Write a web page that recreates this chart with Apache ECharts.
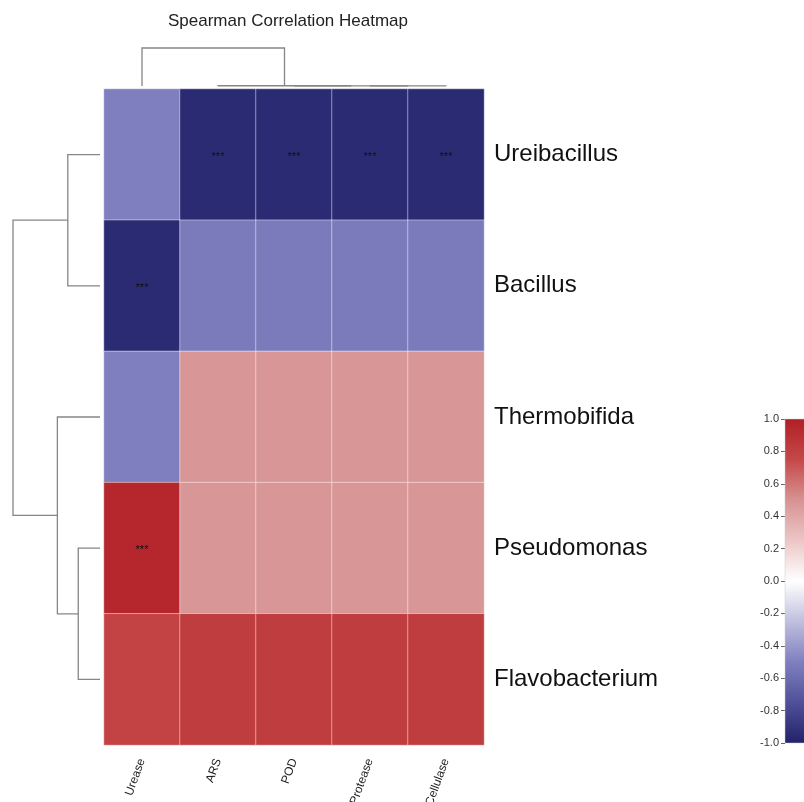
<!DOCTYPE html>
<html>
<head>
<meta charset="utf-8">
<script src="https://cdn.jsdelivr.net/npm/echarts@6/dist/echarts.min.js"></script>
<style>
  html, body { margin: 0; padding: 0; background: #fff; }
  #chart { width: 804px; height: 802px; }
</style>
</head>
<body>
<div id="chart"></div>
<script>
// rows top->bottom, columns left->right
const rows = ['Ureibacillus', 'Bacillus', 'Thermobifida', 'Pseudomonas', 'Flavobacterium'];
const cols = ['Urease', 'ARS', 'POD', 'Protease', 'Cellulase'];

// spearman rho per row (same order as cols)
const rhoUreibacillus = [-0.5, -0.95, -0.95, -0.95, -0.95];
const rhoBacillus = [-0.95, -0.52, -0.52, -0.52, -0.52];
const rhoThermobifida = [-0.5, 0.48, 0.48, 0.48, 0.48];
const rhoPseudomonas = [0.95, 0.48, 0.48, 0.48, 0.48];
const rhoFlavobacterium = [0.78, 0.82, 0.82, 0.82, 0.82];
const rho = [rhoUreibacillus, rhoBacillus, rhoThermobifida, rhoPseudomonas, rhoFlavobacterium];

// significance marks
const stars = [
  ['', '***', '***', '***', '***'],
  ['***', '', '', '', ''],
  ['', '', '', '', ''],
  ['***', '', '', '', ''],
  ['', '', '', '', '']
];

// linkage: [childA, childB, height], new clusters numbered from n
const rowLinkage = [[3, 4, 0.25], [0, 1, 0.37], [2, 5, 0.49], [6, 7, 1.0]];
const colLinkage = [[3, 4, 0.002], [2, 5, 0.004], [1, 6, 0.006], [0, 7, 1.0]];

// colour scale -1 .. 1
const cmap = ['#22226a', '#50509a', '#7f7fbf', '#bfbfdf', '#ffffff', '#ecc6c6', '#d79292', '#c54848', '#b11f25'];

function buildDendro(linkage, n) {
  const pos = [], h = [], segs = [];
  for (let i = 0; i < n; i++) { pos.push(i); h.push(0); }
  linkage.forEach(function (m) {
    const a = m[0], b = m[1];
    segs.push([pos[a], h[a], pos[b], h[b], m[2]]);
    pos.push((pos[a] + pos[b]) / 2);
    h.push(m[2]);
  });
  return segs;
}

function dendroRender(vertical) {
  return function (params, api) {
    const p1 = api.value(0), h1 = api.value(1), p2 = api.value(2), h2 = api.value(3), hm = api.value(4);
    const pt = vertical
      ? function (p, hh) { return api.coord([p, hh]); }
      : function (p, hh) { return api.coord([hh, p]); };
    return {
      type: 'polyline',
      shape: { points: [pt(p1, h1), pt(p1, hm), pt(p2, hm), pt(p2, h2)] },
      style: { stroke: '#868686', lineWidth: 1.3, fill: null }
    };
  };
}

const heatData = [];
rho.forEach(function (r, i) {
  r.forEach(function (v, j) { heatData.push([j, i, v]); });
});

const chart = echarts.init(document.getElementById('chart'));
const font = 'Liberation Sans, Arial, sans-serif';

chart.setOption({
  animation: false,
  textStyle: { fontFamily: font },
  title: {
    text: 'Spearman Correlation Heatmap',
    left: 163,
    top: 8,
    textStyle: { fontSize: 17, fontWeight: 'normal', color: '#222', fontFamily: font }
  },
  grid: [
    { left: 104, top: 89, width: 380, height: 656, outerBoundsMode: 'none' },   // heatmap
    { left: 104, top: 48, width: 380, height: 38, outerBoundsMode: 'none' },    // column tree
    { left: 13, top: 89, width: 87, height: 656, outerBoundsMode: 'none' },     // row tree
    { left: 785, top: 419, width: 24, height: 324, outerBoundsMode: 'none' }    // colour bar
  ],
  xAxis: [
    {
      type: 'category', gridIndex: 0, data: cols, position: 'bottom',
      axisLine: { show: false }, axisTick: { show: false },
      axisLabel: { rotate: 70, fontSize: 12, color: '#222', margin: 14 }
    },
    { type: 'value', gridIndex: 1, min: -0.5, max: 4.5, show: false },
    { type: 'value', gridIndex: 2, min: 0, max: 1, inverse: true, show: false },
    { type: 'value', gridIndex: 3, min: 0, max: 1, show: false }
  ],
  yAxis: [
    {
      type: 'category', gridIndex: 0, data: rows, inverse: true, position: 'right',
      axisLine: { show: false }, axisTick: { show: false },
      axisLabel: { fontSize: 24, color: '#111', margin: 10 }
    },
    { type: 'value', gridIndex: 1, min: 0, max: 1, show: false },
    { type: 'value', gridIndex: 2, min: -0.5, max: 4.5, inverse: true, show: false },
    {
      type: 'value', gridIndex: 3, min: -1, max: 1, interval: 0.2, position: 'left',
      splitLine: { show: false },
      axisLine: { show: false },
      axisTick: { show: true, length: 4, lineStyle: { color: '#666' } },
      axisLabel: {
        fontSize: 11, color: '#333', margin: 6,
        formatter: function (v) { return Math.abs(v) < 1e-9 ? '0.0' : v.toFixed(1); }
      }
    }
  ],
  visualMap: {
    show: false,
    seriesIndex: 0,
    min: -1,
    max: 1,
    inRange: { color: cmap }
  },
  series: [
    {
      type: 'heatmap',
      xAxisIndex: 0, yAxisIndex: 0,
      data: heatData,
      itemStyle: { borderColor: 'rgba(255,255,255,0.45)', borderWidth: 1 },
      label: {
        show: true, fontSize: 11, color: '#111', offset: [0, 2],
        formatter: function (p) { return stars[p.data[1]][p.data[0]]; }
      },
      emphasis: { disabled: true }
    },
    {
      type: 'custom', xAxisIndex: 1, yAxisIndex: 1,
      data: buildDendro(colLinkage, cols.length),
      renderItem: dendroRender(true),
      clip: false, silent: true
    },
    {
      type: 'custom', xAxisIndex: 2, yAxisIndex: 2,
      data: buildDendro(rowLinkage, rows.length),
      renderItem: dendroRender(false),
      clip: false, silent: true
    },
    {
      type: 'custom', xAxisIndex: 3, yAxisIndex: 3,
      data: [[0, -1, 1, 1]],
      renderItem: function (params, api) {
        const tl = api.coord([api.value(0), api.value(2)]);
        const br = api.coord([api.value(3), api.value(1)]);
        const stopsArr = cmap.slice().reverse().map(function (c, i) {
          return { offset: i / (cmap.length - 1), color: c };
        });
        return {
          type: 'rect',
          shape: { x: tl[0], y: tl[1], width: br[0] - tl[0], height: br[1] - tl[1] },
          style: { fill: new echarts.graphic.LinearGradient(0, 0, 0, 1, stopsArr), stroke: '#ccc', lineWidth: 0.5 }
        };
      },
      clip: false, silent: true
    }
  ]
});
</script>
</body>
</html>
